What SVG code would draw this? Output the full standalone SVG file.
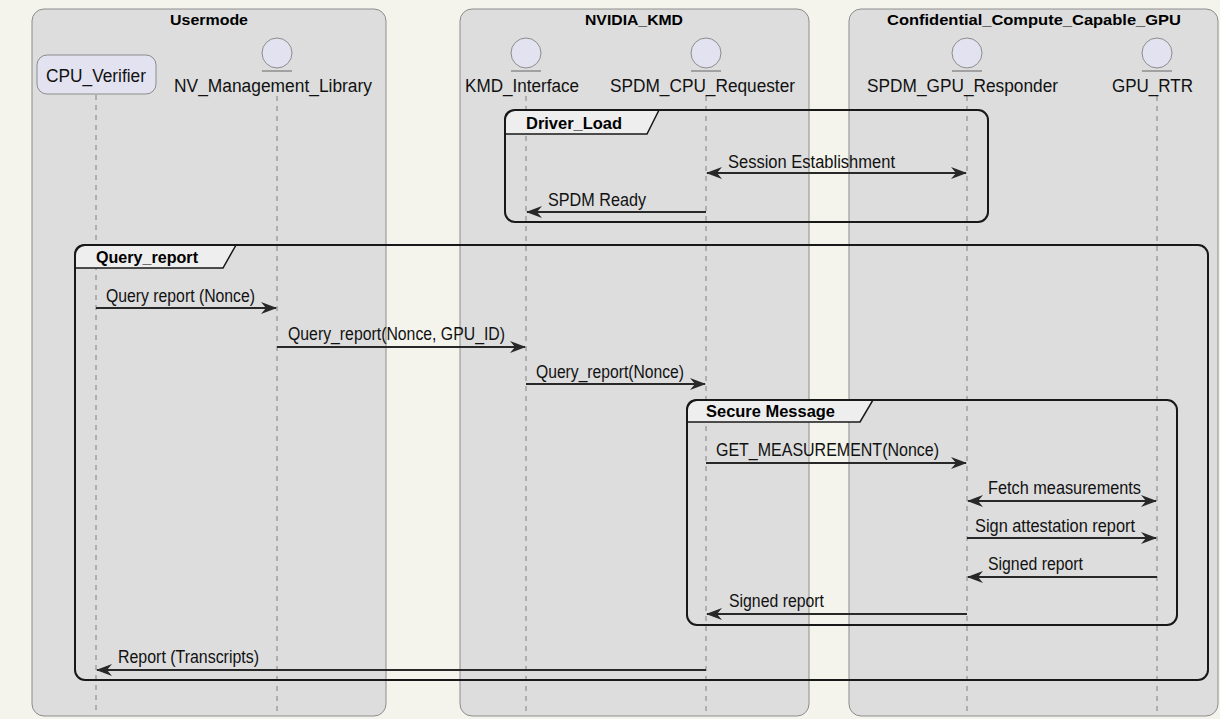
<svg xmlns="http://www.w3.org/2000/svg" width="1220" height="719" viewBox="0 0 1220 719">
<style>
.bg{fill:#F4F4EC}
.box{fill:#DDDDDD;stroke:#8C8C8C;stroke-width:1}
.boxtitle{font-family:"Liberation Sans",Arial,sans-serif;font-weight:bold;font-size:15.5px;fill:#000;text-anchor:middle}
.part{fill:#E2E2F0;stroke:#8C8C8C;stroke-width:1}
.ptext{font-family:"Liberation Sans",Arial,sans-serif;font-size:18px;fill:#111}
.life{stroke:#808080;stroke-width:1;stroke-dasharray:5,5;fill:none}
.frame{fill:none;stroke:#181818;stroke-width:2}
.tab{fill:#EEEEEE;stroke:#181818;stroke-width:1.5}
.ftext{font-family:"Liberation Sans",Arial,sans-serif;font-weight:bold;font-size:16.5px;fill:#000}
.msg{stroke:#282828;stroke-width:2;fill:none}
.mtext{font-family:"Liberation Sans",Arial,sans-serif;font-size:17.5px;fill:#111}
</style>
<defs>
<marker id="ah" markerUnits="userSpaceOnUse" viewBox="0 0 16 12" refX="15" refY="6" markerWidth="16" markerHeight="12" orient="auto-start-reverse">
<path d="M0,0 L16,6 L0,12 L5,6 Z" fill="#282828"/>
</marker>
</defs>
<rect class="bg" x="0" y="0" width="1220" height="719"/>

<g id="box-usermode">
<rect class="box" x="32" y="9" width="354" height="707" rx="12"/>
<text class="boxtitle" x="209" y="25" textLength="78" lengthAdjust="spacingAndGlyphs">Usermode</text>
</g>
<g id="box-nvidia-kmd">
<rect class="box" x="460" y="9" width="349" height="707" rx="12"/>
<text class="boxtitle" x="634" y="25" textLength="98" lengthAdjust="spacingAndGlyphs">NVIDIA_KMD</text>
</g>
<g id="box-cc-gpu">
<rect class="box" x="849" y="9" width="369" height="707" rx="12"/>
<text class="boxtitle" x="1034" y="25" textLength="294" lengthAdjust="spacingAndGlyphs">Confidential_Compute_Capable_GPU</text>
</g>

<g id="lifelines">
<line class="life" x1="96" y1="95" x2="96" y2="712"/>
<line class="life" x1="277" y1="96" x2="277" y2="712"/>
<line class="life" x1="526" y1="96" x2="526" y2="712"/>
<line class="life" x1="706" y1="96" x2="706" y2="712"/>
<line class="life" x1="967" y1="96" x2="967" y2="712"/>
<line class="life" x1="1157" y1="96" x2="1157" y2="712"/>
</g>

<g id="CPU_Verifier">
<rect class="part" x="37" y="55" width="119" height="39" rx="10"/>
<text class="ptext" x="46" y="82" textLength="100" lengthAdjust="spacingAndGlyphs">CPU_Verifier</text>
</g>
<g id="NV_Management_Library">
<circle class="part" cx="277" cy="53" r="15"/>
<line x1="262" y1="71" x2="292" y2="71" stroke="#8C8C8C" stroke-width="1.5"/>
<text class="ptext" x="174" y="92" textLength="198" lengthAdjust="spacingAndGlyphs">NV_Management_Library</text>
</g>
<g id="KMD_Interface">
<circle class="part" cx="526" cy="53" r="15"/>
<line x1="511" y1="71" x2="541" y2="71" stroke="#8C8C8C" stroke-width="1.5"/>
<text class="ptext" x="465" y="92" textLength="114" lengthAdjust="spacingAndGlyphs">KMD_Interface</text>
</g>
<g id="SPDM_CPU_Requester">
<circle class="part" cx="706" cy="53" r="15"/>
<line x1="691" y1="71" x2="721" y2="71" stroke="#8C8C8C" stroke-width="1.5"/>
<text class="ptext" x="610" y="92" textLength="185" lengthAdjust="spacingAndGlyphs">SPDM_CPU_Requester</text>
</g>
<g id="SPDM_GPU_Responder">
<circle class="part" cx="967" cy="53" r="15"/>
<line x1="952" y1="71" x2="982" y2="71" stroke="#8C8C8C" stroke-width="1.5"/>
<text class="ptext" x="867" y="92" textLength="191" lengthAdjust="spacingAndGlyphs">SPDM_GPU_Responder</text>
</g>
<g id="GPU_RTR">
<circle class="part" cx="1157" cy="53" r="15"/>
<line x1="1142" y1="71" x2="1172" y2="71" stroke="#8C8C8C" stroke-width="1.5"/>
<text class="ptext" x="1112" y="92" textLength="81" lengthAdjust="spacingAndGlyphs">GPU_RTR</text>
</g>

<g id="frames">
<g id="frame-driver-load">
<path class="tab" d="M505,134 L505,120 Q505,110 515,110 L659,110 L647,134 Z"/>
<rect class="frame" x="505" y="110" width="483" height="112" rx="10"/>
<text class="ftext" x="526" y="129" textLength="96" lengthAdjust="spacingAndGlyphs">Driver_Load</text>
</g>
<g id="frame-query-report">
<path class="tab" d="M75,268 L75,255 Q75,245 85,245 L236,245 L223,268 Z"/>
<rect class="frame" x="75" y="245" width="1133" height="435" rx="10"/>
<text class="ftext" x="96" y="263" textLength="102" lengthAdjust="spacingAndGlyphs">Query_report</text>
</g>
<g id="frame-secure-message">
<path class="tab" d="M687,422 L687,410 Q687,400 697,400 L873,400 L860,422 Z"/>
<rect class="frame" x="687" y="400" width="490" height="225" rx="10"/>
<text class="ftext" x="706" y="417" textLength="129" lengthAdjust="spacingAndGlyphs">Secure Message</text>
</g>
</g>

<g id="connectors">
<line class="msg" x1="707" y1="173" x2="966" y2="173" marker-start="url(#ah)" marker-end="url(#ah)"/>
<text class="mtext" x="728" y="168" textLength="167" lengthAdjust="spacingAndGlyphs">Session Establishment</text>

<line class="msg" x1="706" y1="212" x2="527" y2="212" marker-end="url(#ah)"/>
<text class="mtext" x="548" y="206" textLength="98" lengthAdjust="spacingAndGlyphs">SPDM Ready</text>

<line class="msg" x1="96" y1="308" x2="276" y2="308" marker-end="url(#ah)"/>
<text class="mtext" x="106" y="302" textLength="149" lengthAdjust="spacingAndGlyphs">Query report (Nonce)</text>

<line class="msg" x1="277" y1="347" x2="525" y2="347" marker-end="url(#ah)"/>
<text class="mtext" x="288" y="340" textLength="217" lengthAdjust="spacingAndGlyphs">Query_report(Nonce, GPU_ID)</text>

<line class="msg" x1="526" y1="384" x2="705" y2="384" marker-end="url(#ah)"/>
<text class="mtext" x="536" y="378" textLength="148" lengthAdjust="spacingAndGlyphs">Query_report(Nonce)</text>

<line class="msg" x1="706" y1="463" x2="966" y2="463" marker-end="url(#ah)"/>
<text class="mtext" x="716" y="456" textLength="223" lengthAdjust="spacingAndGlyphs">GET_MEASUREMENT(Nonce)</text>

<line class="msg" x1="968" y1="501" x2="1156" y2="501" marker-start="url(#ah)" marker-end="url(#ah)"/>
<text class="mtext" x="988" y="494" textLength="153" lengthAdjust="spacingAndGlyphs">Fetch measurements</text>

<line class="msg" x1="967" y1="538" x2="1156" y2="538" marker-end="url(#ah)"/>
<text class="mtext" x="975" y="532" textLength="160" lengthAdjust="spacingAndGlyphs">Sign attestation report</text>

<line class="msg" x1="1157" y1="577" x2="968" y2="577" marker-end="url(#ah)"/>
<text class="mtext" x="988" y="570" textLength="95" lengthAdjust="spacingAndGlyphs">Signed report</text>

<line class="msg" x1="967" y1="614" x2="707" y2="614" marker-end="url(#ah)"/>
<text class="mtext" x="729" y="607" textLength="95" lengthAdjust="spacingAndGlyphs">Signed report</text>

<line class="msg" x1="706" y1="670" x2="97" y2="670" marker-end="url(#ah)"/>
<text class="mtext" x="118" y="663" textLength="141" lengthAdjust="spacingAndGlyphs">Report (Transcripts)</text>
</g>
</svg>
